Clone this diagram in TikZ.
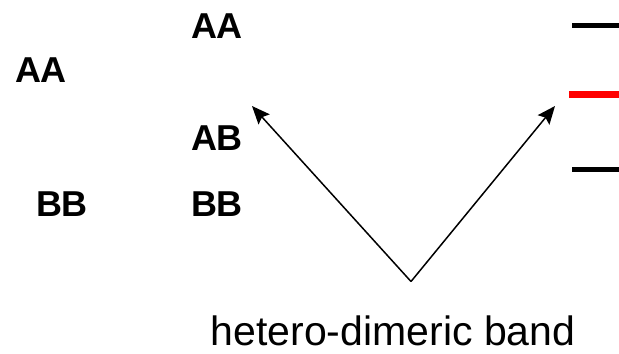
\documentclass[tikz,border=0pt]{standalone}
\usepackage{fontspec}
\setmainfont{Liberation Sans}
\usepackage{xcolor}
\usetikzlibrary{arrows.meta}
\definecolor{Ink}{RGB}{0, 0, 0}
\definecolor{Hetero}{RGB}{255, 0, 0}

\begin{document}
\begin{tikzpicture}[
    x=1bp, y=-1bp,
    geno/.style={inner sep=0pt, font=\fontsize{36bp}{40bp}\selectfont\bfseries, text=Ink},
    caption/.style={inner sep=0pt, anchor=base, font=\fontsize{41bp}{46bp}\selectfont, text=Ink},
    band/.style={line width=5.5bp, Ink},
    arr/.style={-{Stealth[length=18bp, width=15bp, inset=3bp]}, line width=1.5bp, Ink},
]
\useasboundingbox (0,0) rectangle (619,353);

% genotypes
\node[geno] (aa1) at (41,70) {AA};
\node[geno] (bb1) at (62,204.5) {BB};
\node[geno] (aa2) at (217,26) {AA};
\node[geno] (ab2) at (217,138.5) {AB};
\node[geno] (bb2) at (217,204.5) {BB};

% gel bands
\draw[band] (572,25.5) -- (619,25.5);
\draw[band, Hetero, line width=7.5bp] (569,94.7) -- (619,94.7);
\draw[band] (572,169.7) -- (619,169.7);

% pointers
\coordinate (apex) at (411,281.5);
\coordinate (lefttip) at (252,106);
\coordinate (righttip) at (555,106);
\draw[arr] (apex) -- (lefttip);
\draw[arr] (apex) -- (righttip);

\node[caption] (label) at (393,345) {hetero-dimeric band};
\end{tikzpicture}
\end{document}
